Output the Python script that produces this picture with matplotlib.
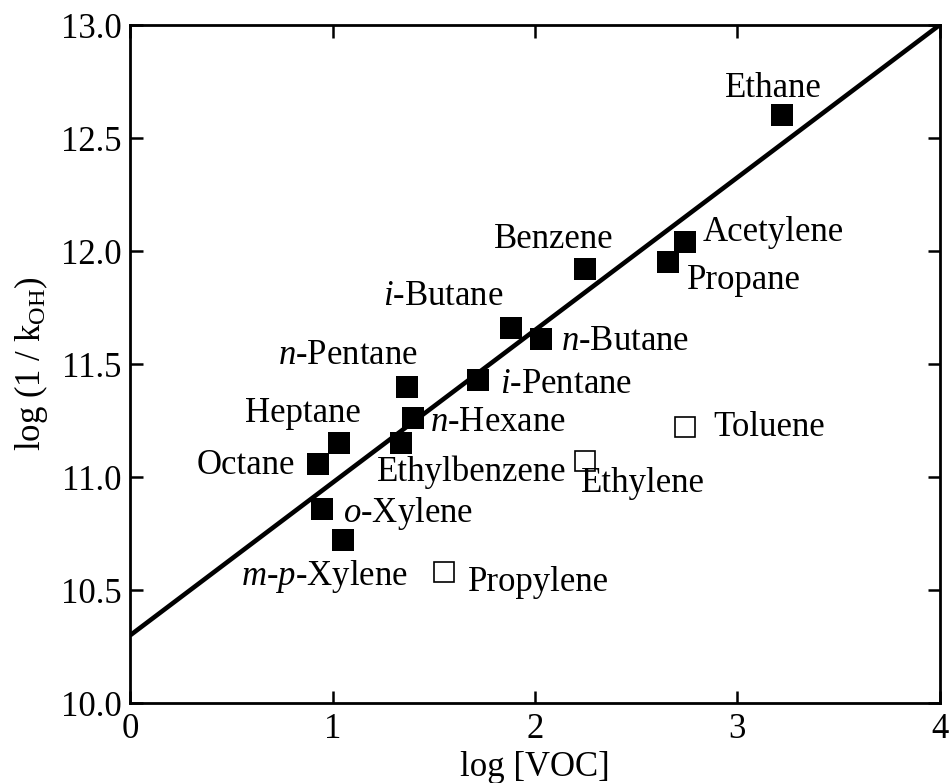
import numpy as np
import matplotlib.pyplot as plt

plt.rcParams['font.family'] = 'Liberation Serif'
plt.rcParams['mathtext.fontset'] = 'custom'
plt.rcParams['mathtext.rm'] = 'Liberation Serif'
plt.rcParams['mathtext.it'] = 'Liberation Serif:italic'

# compounds on the fitted line (filled squares)
fill_x = [3.22, 2.74, 2.66, 2.25, 1.88, 2.03, 1.72, 1.37, 1.40, 1.34, 1.03, 0.93, 0.95, 1.05]
fill_y = [12.60, 12.04, 11.95, 11.92, 11.66, 11.61, 11.43, 11.40, 11.26, 11.15, 11.15, 11.06, 10.86, 10.72]

# alkenes / aromatics off the line (open squares)
open_x = [2.74, 2.25, 1.55]
open_y = [11.22, 11.07, 10.58]

# fitted line endpoints
fit_x = [0, 4]
fit_y = [10.3, 13.0]

names = ['Ethane', 'Acetylene', 'Propane', 'Benzene', r'$\mathit{i}$-Butane',
         r'$\mathit{n}$-Butane', r'$\mathit{n}$-Pentane', r'$\mathit{i}$-Pentane',
         'Heptane', r'$\mathit{n}$-Hexane', 'Octane', 'Ethylbenzene', 'Ethylene',
         'Toluene', r'$\mathit{o}$-Xylene', r'$\mathit{m}$-$\mathit{p}$-Xylene', 'Propylene']
name_x = [2.94, 2.83, 2.75, 1.80, 1.25, 2.13, 0.73, 1.83, 0.57, 1.48, 0.33, 1.22, 2.23,
          2.88, 1.05, 0.55, 1.67]
name_y = [12.72, 12.08, 11.87, 12.05, 11.80, 11.60, 11.54, 11.41, 11.28, 11.24, 11.05,
          11.02, 10.97, 11.22, 10.84, 10.56, 10.535]

fs = 25

fig = plt.figure(figsize=(9.5, 7.83), dpi=100)
ax = fig.add_axes([0.137, 0.102, 0.852, 0.866])

ax.plot(fit_x, fit_y, color='black', lw=3.3, solid_capstyle='butt', zorder=2)
ax.plot(fill_x, fill_y, 's', color='black', ms=16.5, mew=0, zorder=3)
ax.plot(open_x, open_y, 's', mfc='white', mec='black', ms=15, mew=1.2, zorder=3)

for n, x, y in zip(names, name_x, name_y):
    ax.text(x, y, n, fontsize=fs, ha='left', va='center')

ax.set_xlim(0, 4)
ax.set_ylim(10, 13)
ax.set_xticks([0, 1, 2, 3, 4])
ax.set_yticks(np.arange(10, 13.01, 0.5))
ax.set_yticklabels(['%.1f' % v for v in np.arange(10, 13.01, 0.5)])
ax.tick_params(direction='in', length=9, width=1.8, labelsize=fs,
               top=True, right=True)
ax.tick_params(axis='x', pad=7)
ax.tick_params(axis='y', pad=6)
for s in ax.spines.values():
    s.set_linewidth(2)

ax.set_xlabel('log [VOC]', fontsize=fs, labelpad=4)
ax.set_ylabel(r'log (1 / k$_{\rm OH}$)', fontsize=fs, labelpad=8)

fig.savefig('out.png', dpi=100)
